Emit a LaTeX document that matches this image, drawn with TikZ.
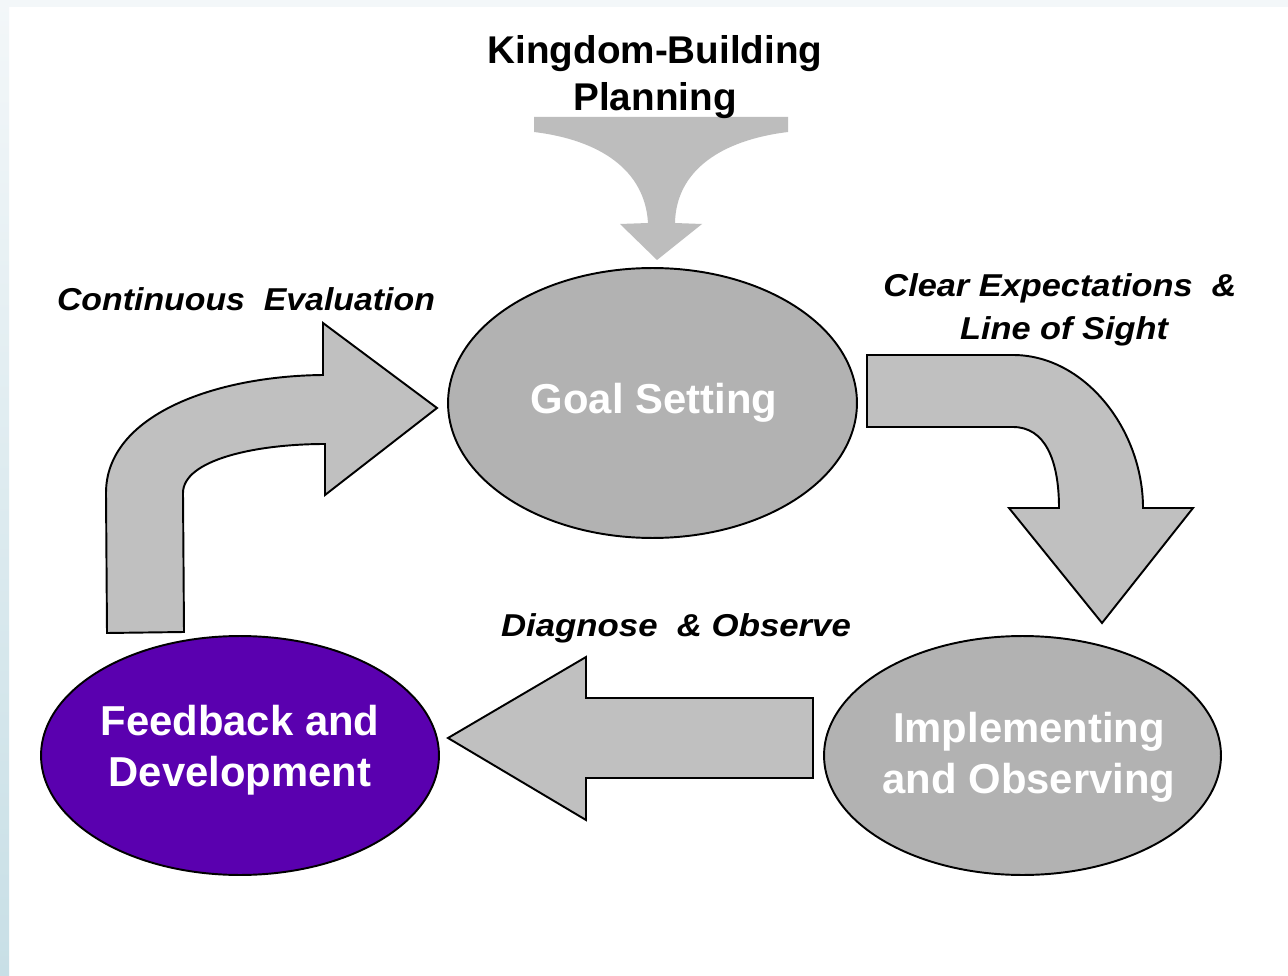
\documentclass[tikz,border=0pt]{standalone}
\usepackage{fontspec}
\setmainfont{Liberation Sans}
\usetikzlibrary{shapes.geometric}
\definecolor{arrowgray}{HTML}{C0C0C0}
\definecolor{funnelgray}{HTML}{BDBDBD}
\definecolor{ellgray}{HTML}{B2B2B2}
\definecolor{fbpurple}{HTML}{5A00AF}
\definecolor{stripTop}{HTML}{F3F7F9}
\definecolor{stripBot}{HTML}{C8DFE6}
\tikzset{
  lbl/.style={font=\fontsize{18}{22}\selectfont\bfseries\itshape, inner sep=0pt, anchor=base},
  ttl/.style={font=\fontsize{22}{26.6}\selectfont\bfseries, align=center, inner sep=0pt},
  ell/.style={ellipse, draw=black, line width=1.1pt, inner sep=0pt},
  elltext/.style={text=white, align=center, inner sep=0pt,
    font=\fontsize{23.8}{29}\selectfont\bfseries},
  blockarrow/.style={fill=arrowgray, draw=black, line width=1.1pt, line join=miter},
}
\begin{document}
\begin{tikzpicture}[x=0.02cm,y=-0.02cm]
\useasboundingbox (0,0) rectangle (1288,976);
\fill[white] (0,0) rectangle (1288,976);
\fill[stripTop] (0,0) rectangle (1288,7);
\shade[top color=stripTop, bottom color=stripBot] (0,0) rectangle (9,976);

% funnel arrow
\fill[funnelgray] (534,117) -- (788,117) -- (788,132)
  .. controls (722,140) and (676,170) .. (675,223) -- (702,224) -- (657,260)
  -- (620,224) -- (648,223) .. controls (645,170) and (600,140) .. (534,132) -- cycle;

% title
\node[ttl] (title) at (655,77) {Kingdom-Building\\Planning};

% ellipses
\node[ell, fill=ellgray, minimum width=8.18cm, minimum height=5.4cm] (goal) at (652.5,403) {};
\node[ell, fill=ellgray, minimum width=7.94cm, minimum height=4.78cm] (impl) at (1022.5,755.5) {};
\node[ell, fill=fbpurple, minimum width=7.96cm, minimum height=4.78cm] (feed) at (240,755.5) {};
\node[elltext] (goaltext) at ([xshift=1.5*0.02cm]goal.center) {Goal Setting};
\node[elltext] (impltext) at (1029,757) {Implementing\\and Observing};
\node[elltext] (feedtext) at (240,750) {Feedback and\\Development};

% block arrows
\draw[blockarrow] (107,633) -- (106,493) .. controls (106,415) and (215,376) .. (323,375)
  -- (323,323) -- (437,408) -- (325,495) -- (325,444)
  .. controls (255,444) and (183,460) .. (183,493) -- (184,632) -- cycle;
\draw[blockarrow] (867,355) -- (1013,355) .. controls (1085,355) and (1143,430) .. (1143,508)
  -- (1193,508) -- (1102,623) -- (1009,508) -- (1059,508)
  .. controls (1059,460) and (1045,427) .. (1013,427) -- (867,427) -- cycle;
\draw[blockarrow] (813,698) -- (586,698) -- (586,657) -- (448,738) -- (586,820) -- (586,778) -- (813,778) -- cycle;

% labels
\node[lbl] (ce) at (246,311) {\scalebox{1.07}[1]{Continuous~ Evaluation}};
\node[lbl] (cl1) at (1060,297) {\scalebox{1.086}[1]{Clear Expectations~ \&}};
\node[lbl] (cl2) at (1064,340) {\scalebox{1.086}[1]{Line of Sight}};
\node[lbl] (dg) at (676,636) {\scalebox{1.1}[1]{Diagnose~ \& Observe}};
\end{tikzpicture}
\end{document}
